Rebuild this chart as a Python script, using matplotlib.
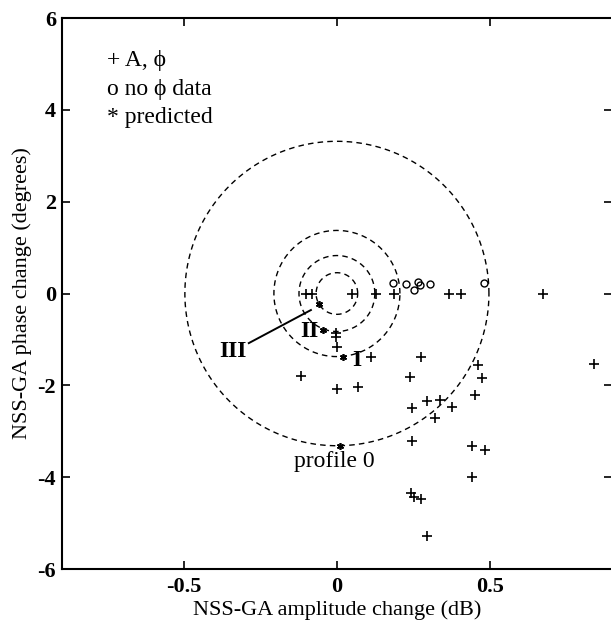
import numpy as np
import matplotlib
matplotlib.use("Agg")
from matplotlib import pyplot as plt

plt.rcParams['font.family'] = ['Liberation Serif', 'DejaVu Serif']
plt.rcParams['axes.unicode_minus'] = False

# measured points with amplitude and phase (+)
amp_x = [-0.101, -0.083, 0.049, 0.127, 0.187, 0.367, 0.405, 0.674,
         -0.003, -0.003, 0.0, 0.111, -0.118, 0.0, 0.068,
         0.275, 0.239, 0.462, 0.473, 0.452, 0.296, 0.336, 0.245, 0.377,
         0.321, 0.247, 0.443, 0.485, 0.441, 0.242, 0.253, 0.275, 0.296,
         0.841]
amp_y = [0.0, 0.0, 0.0, 0.0, 0.0, 0.0, 0.0, 0.0,
         -0.85, -0.95, -1.17, -1.39, -1.8, -2.07, -2.04,
         -1.39, -1.81, -1.56, -1.83, -2.21, -2.34, -2.31, -2.49, -2.48,
         -2.72, -3.21, -3.32, -3.41, -3.99, -4.35, -4.43, -4.48, -5.28,
         -1.54]

# points with no phase data (o)
nophi_x = [0.182, 0.225, 0.253, 0.264, 0.272, 0.305, 0.481]
nophi_y = [0.22, 0.20, 0.08, 0.26, 0.19, 0.20, 0.22]

# predicted points (*) : III, II, I, profile 0
pred_x = [-0.058, -0.047, 0.019, 0.01]
pred_y = [-0.235, -0.8, -1.38, -3.32]

# dashed rings (radius in dB), phase scale in degrees per dB
ring_r = [0.068, 0.124, 0.206, 0.497]
deg_per_db = 6.67

fig = plt.figure(figsize=(6.11, 6.21), dpi=100)
ax = fig.add_axes([0.1008, 0.0837, 1.002 - 0.1008, 0.971 - 0.0837])

t = np.linspace(0, 2 * np.pi, 400)
for r in ring_r:
    ax.plot(r * np.cos(t), r * deg_per_db * np.sin(t), color='black',
            ls=(0, (4, 3)), lw=1.0)

ax.plot(amp_x, amp_y, ls='none', marker='+', ms=7, mew=1.2, color='black')
ax.plot(nophi_x, nophi_y, ls='none', marker='o', ms=5, mew=1.0,
        mfc='none', mec='black')
ax.plot(pred_x, pred_y, ls='none', marker=(6, 2, 0), ms=5, mew=1.2,
        color='black')

# labels for predicted points
ax.plot([-0.288, -0.085], [-1.08, -0.36], color='black', lw=1.4)
ax.text(-0.34, -1.27, 'III', fontsize=17, fontweight='bold',
        ha='center', va='center')
ax.text(-0.09, -0.82, 'II', fontsize=17, fontweight='bold',
        ha='center', va='center')
ax.text(0.065, -1.45, 'I', fontsize=17, fontweight='bold',
        ha='center', va='center')
ax.text(-0.01, -3.66, 'profile 0', fontsize=17, ha='center', va='center')

# key
ax.text(-0.752, 5.07, '+ A, ϕ', fontsize=17, va='center')
ax.text(-0.752, 4.45, 'o no ϕ data', fontsize=17, va='center')
ax.text(-0.752, 3.83, '* predicted', fontsize=17, va='center')

ax.set_xlim(-0.9, 0.9)
ax.set_ylim(-6, 6)
ax.set_xticks([-0.5, 0, 0.5])
ax.set_xticklabels(['-0.5', '0', '0.5'])
ax.set_yticks([-6, -4, -2, 0, 2, 4, 6])
ax.tick_params(direction='in', length=6, width=1.2, top=True, right=True,
               labelsize=16, pad=4)
ax.tick_params(axis='x', pad=6)
for lb in ax.get_xticklabels() + ax.get_yticklabels():
    lb.set_fontweight('bold')
for s in ax.spines.values():
    s.set_linewidth(1.5)

ax.set_xlabel('NSS-GA amplitude change (dB)', fontsize=16, labelpad=2)
ax.set_ylabel('NSS-GA phase change (degrees)', fontsize=16, labelpad=4)

fig.savefig('out.png', dpi=100)
